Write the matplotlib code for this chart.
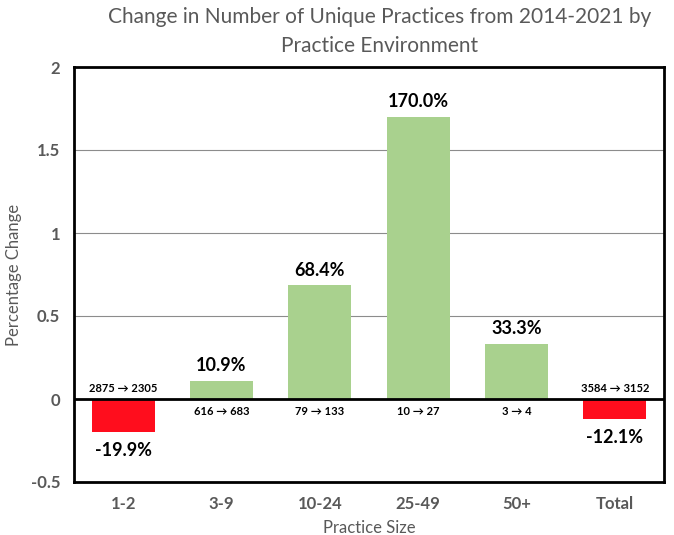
import matplotlib.pyplot as plt

# data
sizes = ['1-2', '3-9', '10-24', '25-49', '50+', 'Total']
change = [-0.199, 0.109, 0.684, 1.700, 0.333, -0.121]
pct_labels = ['-19.9%', '10.9%', '68.4%', '170.0%', '33.3%', '-12.1%']
count_labels = ['2875 \u2192 2305', '616 \u2192 683', '79 \u2192 133',
                '10 \u2192 27', '3 \u2192 4', '3584 \u2192 3152']

plt.rcParams['font.family'] = ['Lato', 'DejaVu Sans']
gray = '#595959'

fig = plt.figure(figsize=(6.74, 5.35), dpi=100)
ax = fig.add_axes([74 / 674, 1 - 482 / 535, 590 / 674, 415 / 535])

colors = ['#ff0d1d' if v < 0 else '#a9d18e' for v in change]
x = range(len(sizes))
ax.bar(x, change, width=0.64, color=colors, zorder=3)

for i, v in enumerate(change):
    if v >= 0:
        ax.text(i, v + 0.04, pct_labels[i], ha='center', va='bottom',
                fontsize=13, fontweight='bold', color='black')
        ax.text(i, -0.04, count_labels[i], ha='center', va='top',
                fontsize=8, fontweight='bold', color='black')
    else:
        ax.text(i, v - 0.06, pct_labels[i], ha='center', va='top',
                fontsize=13, fontweight='bold', color='black')
        ax.text(i, 0.03, count_labels[i], ha='center', va='bottom',
                fontsize=8, fontweight='bold', color='black')

ax.set_xlim(-0.5, len(sizes) - 0.5)
ax.set_ylim(-0.5, 2)
ax.set_yticks([-0.5, 0, 0.5, 1, 1.5, 2])
ax.set_yticklabels(['-0.5', '0', '0.5', '1', '1.5', '2'])
ax.set_xticks(list(x))
ax.set_xticklabels(sizes)
ax.tick_params(length=0, labelsize=12, labelcolor=gray, pad=10)
for lab in ax.get_xticklabels() + ax.get_yticklabels():
    lab.set_fontweight('bold')

ax.yaxis.grid(True, color='#8c8c8c', linewidth=0.8, zorder=0)
ax.axhline(0, color='black', linewidth=2, zorder=4)
for s in ax.spines.values():
    s.set_linewidth(2)
    s.set_color('black')

ax.set_xlabel('Practice Size', fontsize=12, color=gray, labelpad=6)
ax.set_ylabel('Percentage Change', fontsize=12, color=gray, labelpad=6)
fig.text(0.563, 0.987, 'Change in Number of Unique Practices from 2014-2021 by\nPractice Environment',
         fontsize=15, color=gray, ha='center', va='top', linespacing=1.55)

fig.savefig('out.png', dpi=100)
